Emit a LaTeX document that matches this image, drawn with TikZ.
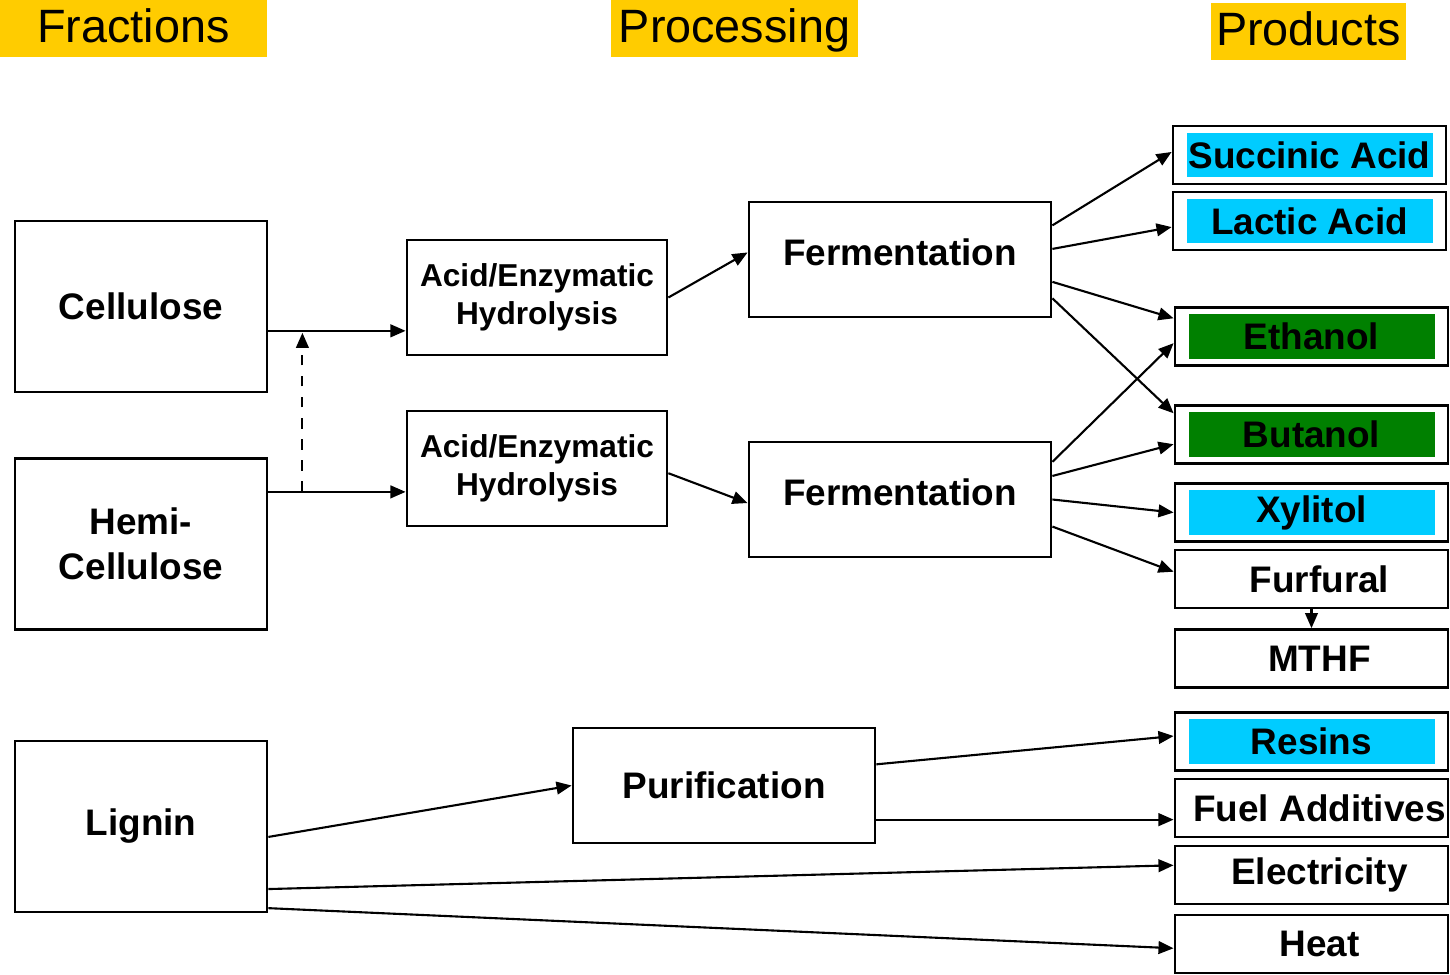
\documentclass[tikz,border=0pt]{standalone}
\usepackage{fontspec}
\setmainfont{Liberation Sans}
\usetikzlibrary{calc,positioning,arrows.meta}
\definecolor{hdryellow}{HTML}{FFCC00}
\definecolor{prodcyan}{HTML}{00CCFF}
\definecolor{prodgreen}{HTML}{008000}
\tikzset{
    header/.style={fill=hdryellow, minimum height=0.57cm, inner sep=0pt, text height=0.36cm, text depth=0.09cm, font=\fontsize{13.3}{16}\selectfont},
    fraction/.style={draw, line width=0.75pt, minimum width=2.52cm, minimum height=1.71cm, align=center, font=\fontsize{10.5}{12.8}\selectfont\bfseries},
    process/.style={draw, line width=0.75pt, minimum height=1.15cm, align=center, font=\fontsize{10.5}{12.8}\selectfont\bfseries},
    hydro/.style={process, minimum width=2.6cm, font=\fontsize{9}{10.8}\selectfont\bfseries},
    ferment/.style={process, minimum width=3.02cm, text depth=0.15cm},
    product/.style={draw, line width=0.75pt, minimum width=2.73cm, minimum height=0.58cm, inner sep=0pt, font=\fontsize{10.5}{12.8}\selectfont\bfseries},
    plain/.style={product, execute at begin node={\hspace*{0.16cm}}},
    shade/.style={path picture={\fill[#1] ([shift={(0.14cm,0.07cm)}]path picture bounding box.south west) rectangle ([shift={(-0.13cm,-0.07cm)}]path picture bounding box.north east);}},
    arrow/.style={draw, line width=0.6pt, -{Triangle[length=4.3pt, width=3.6pt]}}
}

\begin{document}
\begin{tikzpicture}[x=0.01cm, y=-0.01cm]
    \useasboundingbox (0,0) rectangle (1450,975);

    % Headers
    \node[header, minimum width=2.67cm] (hfrac) at (133.5,28.5) {Fractions};
    \node[header, minimum width=2.47cm] (hproc) at (734.5,28.5) {Processing};
    \node[header, minimum width=1.95cm] (hprod) at (1308.5,31.5) {Products};

    % Fractions
    \node[fraction] (cell) at (141,306.5) {Cellulose};
    \node[fraction] (hemi) at (141,544) {Hemi-\\Cellulose};
    \node[fraction] (lign) at (141,826.5) {Lignin};

    % Processing
    \node[hydro] (hyd1) at (537,297.5) {Acid/Enzymatic\\Hydrolysis};
    \node[hydro] (hyd2) at (537,468.5) {Acid/Enzymatic\\Hydrolysis};
    \node[ferment] (ferm1) at (900,259.5) {Fermentation};
    \node[ferment] (ferm2) at (900,499.5) {Fermentation};
    \node[process, minimum width=3.02cm] (puri) at (724,785.5) {Purification};

    % Products
    \node[product, shade=prodcyan] (succ) at (1309.5,155) {Succinic Acid};
    \node[product, shade=prodcyan] (lact) at (1309.5,221) {Lactic Acid};
    \node[product, shade=prodgreen] (etha) at (1311.5,336.5) {Ethanol};
    \node[product, shade=prodgreen] (buta) at (1311.5,434.5) {Butanol};
    \node[product, shade=prodcyan] (xyli) at (1311.5,512.5) {Xylitol};
    \node[plain] (furf) at (1311.5,579) {Furfural};
    \node[plain] (mthf) at (1311.5,658.5) {MTHF};
    \node[product, shade=prodcyan] (resi) at (1311.5,741.5) {Resins};
    \node[plain] (fuel) at (1311.5,808) {Fuel Additives};
    \node[plain] (elec) at (1311.5,875) {Electricity};
    \node[plain] (heat) at (1311.5,944) {Heat};

    % fractions to hydrolysis
    \draw[arrow] ($(cell.north east)!0.64!(cell.south east)$) coordinate (c1) -- (c1 -| hyd1.west);
    \draw[arrow] ($(hemi.north east)!0.2!(hemi.south east)$) coordinate (c2) -- (c2 -| hyd2.west);
    \draw[arrow, dashed] ([xshift=0.34cm]c2) -- ([xshift=0.34cm, yshift=-0.02cm]c1);

    % hydrolysis to fermentation
    \draw[arrow] (hyd1.east) -- ($(ferm1.north west)!0.44!(ferm1.south west)$);
    \draw[arrow] ($(hyd2.north east)!0.54!(hyd2.south east)$) -- ($(ferm2.north west)!0.53!(ferm2.south west)$);

    % fermentation to products
    \draw[arrow] ($(ferm1.north east)!0.21!(ferm1.south east)$) -- ($(succ.north west)!0.45!(succ.south west)$);
    \draw[arrow] ($(ferm1.north east)!0.41!(ferm1.south east)$) -- ($(lact.north west)!0.6!(lact.south west)$);
    \draw[arrow] ($(ferm1.north east)!0.69!(ferm1.south east)$) -- ($(etha.north west)!0.2!(etha.south west)$);
    \draw[arrow] ($(ferm1.north east)!0.83!(ferm1.south east)$) -- ($(buta.north west)!0.15!(buta.south west)$);
    \draw[arrow] ($(ferm2.north east)!0.18!(ferm2.south east)$) -- ($(etha.north west)!0.61!(etha.south west)$);
    \draw[arrow] ($(ferm2.north east)!0.3!(ferm2.south east)$) -- ($(buta.north west)!0.66!(buta.south west)$);
    \draw[arrow] ($(ferm2.north east)!0.5!(ferm2.south east)$) -- (xyli.west);
    \draw[arrow] ($(ferm2.north east)!0.73!(ferm2.south east)$) -- ($(furf.north west)!0.38!(furf.south west)$);
    \draw[arrow] (furf.south) -- (mthf.north);

    % lignin
    \draw[arrow] ($(lign.north east)!0.56!(lign.south east)$) -- (puri.west);
    \draw[arrow] ($(puri.north east)!0.32!(puri.south east)$) -- ($(resi.north west)!0.41!(resi.south west)$);
    \draw[arrow] ($(puri.north east)!0.79!(puri.south east)$) coordinate (p1) -- (p1 -| fuel.west);
    \draw[arrow] ($(lign.north east)!0.86!(lign.south east)$) -- ($(elec.north west)!0.34!(elec.south west)$);
    \draw[arrow] ($(lign.north east)!0.97!(lign.south east)$) -- ($(heat.north west)!0.57!(heat.south west)$);
\end{tikzpicture}
\end{document}
